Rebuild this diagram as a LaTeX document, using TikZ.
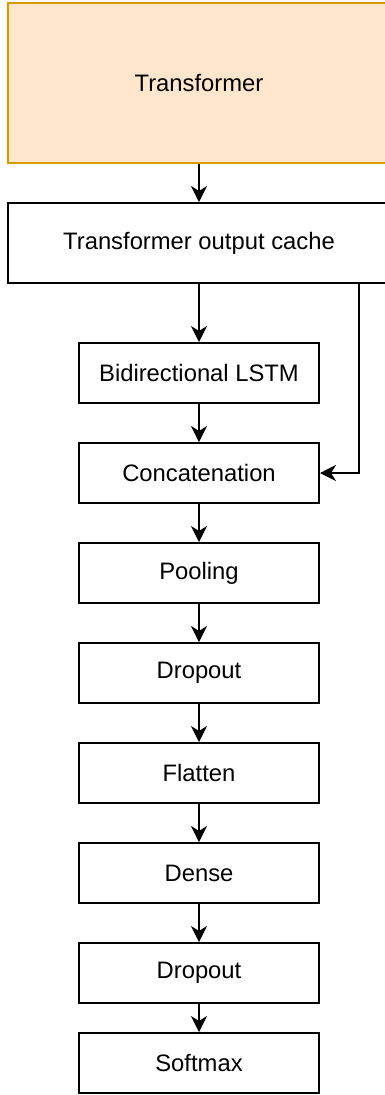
\documentclass[tikz,border=0pt]{standalone}
\usepackage{fontspec}
\setmainfont{Liberation Sans}
\usepackage{tikz}
\usetikzlibrary{arrows,arrows.meta}
\definecolor{trfill}{HTML}{FFE6CC}
\definecolor{trdraw}{HTML}{D79B00}
\tikzset{
      layer/.style={draw=black, line width=2pt, rectangle, inner sep=0pt,
                  minimum width=240pt, minimum height=60pt,
                  font=\fontsize{23.8}{28}\selectfont},
      wide layer/.style={layer, minimum width=382pt}, % runs past the right edge
      flow/.style={line width=2pt, -{Stealth[length=16pt,width=16pt,inset=5pt]}}
}
\begin{document}
\begin{tikzpicture}[x=1pt, y=-1pt]
                  \clip (0, 0) rectangle (385, 1095);
                  % the model
                  \node (trans) at (199, 83) [wide layer, minimum height=160pt, fill=trfill, draw=trdraw] {Transformer};
                  \node (cache) at (199, 243) [wide layer, minimum height=80pt] {Transformer output cache};
                  \node (lstm) at (199, 373) [layer] {Bidirectional LSTM};
                  \node (concat) at (199, 473) [layer] {Concatenation};
                  \node (pool) at (199, 573) [layer] {Pooling};
                  \node (drop1) at (199, 673) [layer] {Dropout};
                  \node (flat) at (199, 773) [layer] {Flatten};
                  \node (dense) at (199, 873) [layer] {Dense};
                  \node (drop2) at (199, 973) [layer] {Dropout};
                  \node (soft) at (199, 1063) [layer] {Softmax};
                  % connections
                  \draw [flow] (trans) -- (cache);
                  \draw [flow] (cache) -- (lstm);
                  \draw [flow] (lstm) -- (concat);
                  \coordinate (skip) at (359, 283);
                  \draw [flow] (skip) |- (concat.east);
                  \draw [flow] (concat) -- (pool);
                  \draw [flow] (pool) -- (drop1);
                  \draw [flow] (drop1) -- (flat);
                  \draw [flow] (flat) -- (dense);
                  \draw [flow] (dense) -- (drop2);
                  \draw [flow] (drop2) -- (soft);
            \end{tikzpicture}
\end{document}
